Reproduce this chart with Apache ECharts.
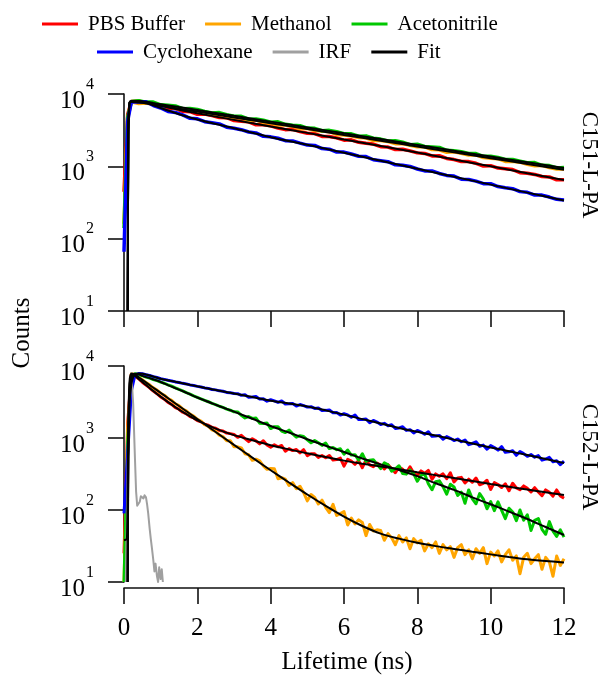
<!DOCTYPE html>
<html>
<head>
<meta charset="utf-8">
<title>Fluorescence lifetime decays</title>
<script src="https://cdn.jsdelivr.net/npm/echarts@6/dist/echarts.min.js"></script>
<style>
  html, body { margin: 0; padding: 0; background: #fff; }
  #chart { width: 602px; height: 677px; }
</style>
</head>
<body>
<div id="chart"></div>
<script>
// ---- Legend and panel text ----
const LEGEND_ROW1 = ['PBS Buffer', 'Methanol', 'Acetonitrile'];
const LEGEND_ROW2 = ['Cyclohexane', 'IRF', 'Fit'];
const PANEL_LABELS = ['C151-L-PA', 'C152-L-PA'];
const X_TITLE = 'Lifetime (ns)';
const Y_TITLE = 'Counts';

// ---- C151-L-PA (upper panel): measured decays, time in ns ----
const TIME_TOP = [0, 0.1, 0.2, 0.4, 0.6, 0.8, 1.0, 1.2, 1.4, 1.6, 1.8, 2.0, 2.2, 2.4, 2.6, 2.8, 3.0, 3.2, 3.4, 3.6, 3.8,
  4.0, 4.2, 4.4, 4.6, 4.8, 5.0, 5.2, 5.4, 5.6, 5.8, 6.0, 6.2, 6.4, 6.6, 6.8, 7.0, 7.2, 7.4, 7.6, 7.8,
  8.0, 8.2, 8.4, 8.6, 8.8, 9.0, 9.2, 9.4, 9.6, 9.8, 10.0, 10.2, 10.4, 10.6, 10.8, 11.0, 11.2, 11.4, 11.6, 11.8, 12.0];
const TOP_PBS = [445, 5200, 7900, 8030, 7546, 7395, 6800, 6336, 6314, 5762, 5696, 5238, 5284, 5020, 4722, 4707, 4302, 4210,
  4121, 3754, 3747, 3631, 3386, 3214, 3245, 3020, 2871, 2836, 2590, 2586, 2475, 2303, 2328, 2148, 2080, 2030, 1872,
  1848, 1707, 1724, 1636, 1535, 1510, 1392, 1401, 1287, 1240, 1166, 1163, 1101, 1009, 1020, 945, 924, 901, 818,
  800, 773, 723, 714, 650, 651];
const TOP_METHANOL = [160, 4600, 7800, 7372, 7484, 7196, 6733, 6819, 6311, 6145, 6038, 5596, 5555, 5141, 5202, 4969, 4693,
  4661, 4312, 4362, 4044, 3940, 3724, 3733, 3560, 3298, 3346, 3123, 3070, 3013, 2764, 2715, 2646, 2500, 2479, 2275,
  2283, 2197, 2058, 2066, 1950, 1861, 1859, 1705, 1697, 1567, 1591, 1515, 1431, 1437, 1323, 1295, 1275, 1169, 1172,
  1142, 1069, 1019, 1030, 965, 921, 918];
const TOP_ACN = [140, 4800, 7850, 8080, 7722, 7725, 7085, 6970, 6844, 6276, 6292, 6130, 5732, 5468, 5531, 5180, 4940, 4906,
  4491, 4505, 4343, 4067, 4120, 3812, 3710, 3652, 3381, 3353, 3104, 3142, 3000, 2831, 2815, 2607, 2637, 2445, 2380,
  2244, 2254, 2151, 1989, 2020, 1881, 1848, 1823, 1666, 1640, 1596, 1505, 1499, 1377, 1379, 1328, 1245, 1244, 1180,
  1124, 1128, 1034, 1025, 951, 964];
const TOP_CYCLOHEX = [66, 4200, 7800, 7742, 7828, 6930, 6400, 5733, 5559, 5131, 4608, 4539, 4138, 4000, 3863, 3479, 3360,
  3212, 2980, 2897, 2600, 2555, 2444, 2264, 2244, 2090, 1967, 1945, 1759, 1723, 1573, 1572, 1480, 1379, 1364, 1233,
  1196, 1160, 1048, 1037, 996, 919, 864, 863, 797, 749, 734, 663, 657, 624, 576, 576, 526, 505, 490, 447, 437, 400,
  400, 376, 350, 343];

// ---- C151-L-PA fitted curves ----
const FIT_TIME_TOP = [0.1, 0.12, 0.15, 0.2, 0.4, 0.6, 0.8, 1, 1.5, 2, 3, 4, 5, 6, 7, 8, 9, 10, 11, 12];
const FIT_TOP_PBS = [10, 3000, 7600, 7950, 7950, 7750, 7350, 6900, 6050, 5400, 4390, 3560, 2900, 2350, 1910, 1550, 1240, 1000, 800, 645];
const FIT_TOP_METHANOL = [10, 3000, 7500, 7800, 7600, 7410, 7125, 6870, 6260, 5710, 4740, 3940, 3280, 2715, 2260, 1880, 1560, 1295, 1080, 900];
const FIT_TOP_ACN = [10, 3000, 7600, 7950, 8000, 7800, 7500, 7230, 6590, 6010, 4990, 4150, 3450, 2860, 2380, 1980, 1640, 1365, 1135, 945];
const FIT_TOP_CYCLOHEX = [10, 3000, 7500, 7850, 7900, 7600, 7000, 6400, 5260, 4450, 3360, 2530, 1987, 1541, 1196, 928, 720, 559, 433, 336];

// ---- C152-L-PA (lower panel): measured decays, time in ns ----
const TIME_BOTTOM = [0, 0.1, 0.2, 0.3, 0.4, 0.5, 0.6, 0.7, 0.8, 0.9, 1.0, 1.1, 1.2, 1.3, 1.4, 1.5, 1.6, 1.7, 1.8, 1.9,
  2.0, 2.1, 2.2, 2.3, 2.4, 2.5, 2.6, 2.7, 2.8, 2.9, 3.0, 3.1, 3.2, 3.3, 3.4, 3.5, 3.6, 3.7, 3.8, 3.9,
  4.0, 4.1, 4.2, 4.3, 4.4, 4.5, 4.6, 4.7, 4.8, 4.9, 5.0, 5.1, 5.2, 5.3, 5.4, 5.5, 5.6, 5.7, 5.8, 5.9,
  6.0, 6.1, 6.2, 6.3, 6.4, 6.5, 6.6, 6.7, 6.8, 6.9, 7.0, 7.1, 7.2, 7.3, 7.4, 7.5, 7.6, 7.7, 7.8, 7.9,
  8.0, 8.1, 8.2, 8.3, 8.4, 8.5, 8.6, 8.7, 8.8, 8.9, 9.0, 9.1, 9.2, 9.3, 9.4, 9.5, 9.6, 9.7, 9.8, 9.9,
  10.0, 10.1, 10.2, 10.3, 10.4, 10.5, 10.6, 10.7, 10.8, 10.9, 11.0, 11.1, 11.2, 11.3, 11.4, 11.5, 11.6, 11.7, 11.8, 11.9, 12.0];
const BOT_PBS = [25, 1600, 7700, 7250, 6650, 5950, 5420, 4980, 4480, 4130, 3720, 3460, 3120, 2930, 2650, 2510, 2280, 2170,
  1990, 1900, 1745, 1680, 1555, 1505, 1405, 1365, 1275, 1250, 1170, 1150,
  1121, 1022, 1087, 978, 891, 975, 911, 828, 916, 800, 747, 803, 755, 788, 655, 712, 669, 692, 621, 688,
  568, 605, 605, 537, 571, 532, 571, 495, 502, 526,
  407, 505, 476, 431, 485, 387, 492, 424, 400, 450, 418, 371, 427, 373, 329, 397, 368, 326, 397, 327,
  302, 349, 323, 355, 267, 317, 294, 318, 272, 328, 245, 278, 284, 237, 268, 243, 278, 224, 234, 259,
  193, 240, 226, 205, 231, 185, 235, 203, 191, 216, 200, 178, 204, 178, 158, 190, 176, 156, 190, 157, 146];
const BOT_METHANOL = [10, 1400, 7800, 7580, 6950, 6460, 5880, 5470, 4960, 4640, 4190, 3930, 3540, 3330, 2990, 2820, 2530,
  2390, 2140, 2020, 1810, 1715, 1530, 1455, 1295, 1235, 1095, 1045, 918, 915,
  754, 754, 729, 603, 584, 490, 507, 481, 410, 367, 378, 373, 272, 281, 268, 219, 240, 197, 214, 174,
  134, 164, 149, 121, 137, 109, 92, 120, 84, 89, 95, 62, 77, 64, 73, 67, 44, 63, 51, 53,
  52, 38, 47, 41, 33, 44, 36, 41, 29, 40, 35, 38, 27, 34, 30, 36, 25, 33, 28, 31,
  22, 30, 33, 24, 28, 21, 29, 25, 30, 18, 26, 23, 27, 19, 24, 28, 20, 23, 13, 22,
  25, 18, 21, 24, 15, 22, 19, 12, 23, 17, 21];
const BOT_ACN = [10, 900, 6400, 7800, 7620, 7330, 7010, 6780, 6500, 6260, 5980, 5760, 5470, 5240, 4960, 4720, 4510, 4270,
  4080, 3850, 3670, 3500, 3330, 3190, 3030, 2910, 2760, 2660, 2520, 2430, 2310,
  2298, 2068, 1899, 1988, 1869, 1894, 1606, 1594, 1617, 1352, 1438, 1431, 1251, 1190, 1285, 1140, 1025, 1076, 1050,
  941, 857, 920, 857, 790, 850, 713, 737, 689, 708,
  594, 681, 579, 586, 494, 604, 474, 492, 498, 431, 376, 452, 423, 345, 373, 412, 321, 315, 360, 318,
  251, 303, 317, 232, 191, 247, 254, 211, 166, 228, 209, 159, 177, 124, 190, 143, 122, 169, 142, 104,
  131, 98, 130, 99, 76, 106, 94, 71, 100, 72, 86, 52, 72, 76, 54, 46, 69, 51, 43, 53, 42];
const BOT_CYCLOHEX = [90, 600, 4500, 7500, 7850, 7800, 7560, 7380, 7120, 6920, 6650, 6520, 6330, 6200, 6010, 5900, 5740,
  5640, 5460, 5370, 5210, 5120, 4960, 4890, 4720, 4660, 4520, 4460, 4300, 4240, 4140,
  4131, 3920, 3986, 3667, 3700, 3765, 3469, 3495, 3245, 3399, 3272, 3116, 3276, 2968, 2980, 3009, 2774, 2915, 2818,
  2685, 2723, 2574, 2616, 2406, 2420, 2454, 2244, 2252, 2083, 2173, 2091, 1940, 2086, 1805, 1803, 1833, 1626, 1756, 1665,
  1542, 1597, 1478, 1526, 1356, 1380, 1431, 1276, 1304, 1175, 1275, 1208, 1125, 1220, 1055, 1064, 1087, 964, 1045, 990,
  922, 967, 887, 938, 808, 840, 886, 768, 796, 699, 784, 737, 678, 758, 632, 642, 666, 575, 647, 607,
  557, 589, 541, 570, 493, 510, 538, 467, 483, 425, 477];

// ---- C152-L-PA fitted curves (null = before the fit starts) ----
const FIT_TIME_BOTTOM = [0, 0.08, 0.1, 0.12, 0.15, 0.2, 0.25, 0.3, 0.4, 0.5, 0.75, 1, 1.25, 1.5, 1.75, 2, 2.5, 3, 3.5, 4,
  4.5, 5, 5.5, 6, 6.5, 7, 7.5, 8, 8.5, 9, 9.5, 10, 10.5, 11, 11.5, 12];
const FIT_BOT_PBS = [38, 40, 200, 1500, 5000, 7600, 7700, 7300, 6600, 6000, 4700, 3750, 3020, 2480, 2080, 1760, 1350, 1095,
  930, 795, 695, 612, 545, 485, 440, 402, 368, 335, 305, 278, 253, 230, 210, 192, 176, 162];
const FIT_BOT_METHANOL = [null, null, 10, 1500, 6000, 7800, 7800, 7600, 6989, 6427, 5200, 4229, 3430, 2784, 2260, 1835,
  1212, 802, 533, 357, 241, 164, 114, 81, 60, 47, 40, 35, 31.5, 28.8, 26.3, 24.2, 22.3, 20.7, 19.5, 18.6];
const FIT_BOT_ACN = [null, null, 10, 800, 4000, 6800, 7600, 7800, 7650, 7300, 6650, 6000, 5300, 4700, 4150, 3650, 2900,
  2320, 1850, 1470, 1190, 960, 780, 640, 520, 430, 360, 295, 235, 190, 150, 120, 95, 75, 58, 45];
const FIT_BOT_CYCLOHEX = [null, null, 10, 500, 3000, 5500, 7000, 7600, 7850, 7800, 7250, 6650, 6250, 5900, 5550, 5220,
  4650, 4150, 3700, 3300, 3010, 2740, 2420, 2110, 1830, 1590, 1380, 1220, 1080, 950, 840, 740, 655, 580, 510, 450];

// ---- Instrument response function (lower panel) ----
const IRF_TIME = [0.05, 0.1, 0.15, 0.2, 0.25, 0.3, 0.33, 0.36, 0.4, 0.43, 0.46, 0.5, 0.53, 0.56, 0.6, 0.63, 0.66, 0.7,
  0.73, 0.76, 0.8, 0.83, 0.86, 0.9, 0.93, 0.96, 1.0, 1.03, 1.06];
const IRF_COUNTS = [10, 400, 5500, 8000, 3000, 500, 180, 115, 108, 130, 155, 162, 145, 160, 150, 120, 90, 55, 40, 30, 20,
  14, 18, 12, 10, 16, 11, 15, 10];

// ---- Styling ----
const FONT = "'Liberation Serif', 'Times New Roman', serif";
const COLORS = {
  'PBS Buffer': '#ff0000',
  'Methanol': '#ffa500',
  'Acetonitrile': '#00c800',
  'Cyclohexane': '#0000ff',
  'IRF': '#a0a0a0',
  'Fit': '#000000'
};
const AXIS_COLOR = '#111';

function pairs(times, values) {
  const out = [];
  for (let i = 0; i < times.length; i++) {
    if (values[i] !== null && values[i] !== undefined) out.push([times[i], values[i]]);
  }
  return out;
}

function dataSeries(name, panel, times, values, width) {
  return {
    type: 'line', name: name, xAxisIndex: panel, yAxisIndex: panel,
    data: pairs(times, values), color: COLORS[name],
    showSymbol: false, symbol: 'none', clip: true,
    lineStyle: { width: width, color: COLORS[name], join: 'round' },
    emphasis: { disabled: true }, silent: true
  };
}

function fitSeries(panel, times, values) {
  return {
    type: 'line', name: 'Fit', xAxisIndex: panel, yAxisIndex: panel,
    data: pairs(times, values), color: COLORS['Fit'],
    showSymbol: false, symbol: 'none', clip: true, smooth: 0.3,
    lineStyle: { width: 2, color: COLORS['Fit'] },
    emphasis: { disabled: true }, silent: true
  };
}

const series = [
  // upper panel
  dataSeries('PBS Buffer', 0, TIME_TOP, TOP_PBS, 3.5),
  dataSeries('Methanol', 0, TIME_TOP, TOP_METHANOL, 3.5),
  dataSeries('Acetonitrile', 0, TIME_TOP, TOP_ACN, 3.5),
  dataSeries('Cyclohexane', 0, TIME_TOP, TOP_CYCLOHEX, 3.5),
  // lower panel
  dataSeries('PBS Buffer', 1, TIME_BOTTOM, BOT_PBS, 3),
  dataSeries('Methanol', 1, TIME_BOTTOM, BOT_METHANOL, 3),
  dataSeries('Acetonitrile', 1, TIME_BOTTOM, BOT_ACN, 3),
  dataSeries('Cyclohexane', 1, TIME_BOTTOM, BOT_CYCLOHEX, 3),
  dataSeries('IRF', 1, IRF_TIME, IRF_COUNTS, 2),
  // fits
  fitSeries(0, FIT_TIME_TOP, FIT_TOP_PBS),
  fitSeries(0, FIT_TIME_TOP, FIT_TOP_METHANOL),
  fitSeries(0, FIT_TIME_TOP, FIT_TOP_ACN),
  fitSeries(0, FIT_TIME_TOP, FIT_TOP_CYCLOHEX),
  fitSeries(1, FIT_TIME_BOTTOM, FIT_BOT_PBS),
  fitSeries(1, FIT_TIME_BOTTOM, FIT_BOT_METHANOL),
  fitSeries(1, FIT_TIME_BOTTOM, FIT_BOT_ACN),
  fitSeries(1, FIT_TIME_BOTTOM, FIT_BOT_CYCLOHEX)
];

function legendRow(names, left, top) {
  return {
    data: names, left: left, top: top, orient: 'horizontal',
    icon: 'rect', itemWidth: 36, itemHeight: 3, itemGap: 20, padding: 0,
    selectedMode: false,
    textStyle: { fontFamily: FONT, fontSize: 21, color: '#000', lineHeight: 24, padding: [0, 0, 0, 5] }
  };
}

function xAxisFor(panel, showLabels) {
  return {
    gridIndex: panel, type: 'value', min: 0, max: 12, interval: 2,
    offset: showLabels ? 6 : 0,
    axisLine: { show: true, onZero: false, lineStyle: { color: AXIS_COLOR, width: 1.6 } },
    axisTick: { show: true, inside: false, length: 16, lineStyle: { color: AXIS_COLOR, width: 1.6 } },
    axisLabel: { show: showLabels, margin: 28, fontFamily: FONT, fontSize: 25, color: '#000' },
    splitLine: { show: false }
  };
}

function yAxisFor(panel) {
  return {
    gridIndex: panel, type: 'log', logBase: 10, min: 10, max: 10000,
    axisLine: { show: true, lineStyle: { color: AXIS_COLOR, width: 1.6 } },
    axisTick: { show: true, inside: false, length: 16, lineStyle: { color: AXIS_COLOR, width: 1.6 } },
    minorTick: { show: false },
    splitLine: { show: false },
    axisLabel: {
      margin: 30,
      formatter: function (v) { return '{b|10}{e|' + Math.round(Math.log10(v)) + '}'; },
      rich: {
        b: { fontFamily: FONT, fontSize: 25, color: '#000', padding: [14, 0, 0, 0] },
        e: { fontFamily: FONT, fontSize: 16, color: '#000', verticalAlign: 'top', padding: [2, 0, 0, 1] }
      }
    }
  };
}

const option = {
  animation: false,
  backgroundColor: '#ffffff',
  textStyle: { fontFamily: FONT },
  legend: [legendRow(LEGEND_ROW1, 42, 12), legendRow(LEGEND_ROW2, 97, 40)],
  grid: [
    { left: 124, top: 94, width: 440, height: 217, containLabel: false },
    { left: 124, top: 366, width: 440, height: 216, containLabel: false }
  ],
  xAxis: [xAxisFor(0, false), xAxisFor(1, true)],
  yAxis: [yAxisFor(0), yAxisFor(1)],
  series: series,
  graphic: [
    { type: 'text', x: 589, y: 165, rotation: -Math.PI / 2,
      style: { text: PANEL_LABELS[0], fontFamily: FONT, fontSize: 23, fill: '#000', textAlign: 'center', textVerticalAlign: 'middle' } },
    { type: 'text', x: 589, y: 457, rotation: -Math.PI / 2,
      style: { text: PANEL_LABELS[1], fontFamily: FONT, fontSize: 23, fill: '#000', textAlign: 'center', textVerticalAlign: 'middle' } },
    { type: 'text', x: 22, y: 333, rotation: Math.PI / 2,
      style: { text: Y_TITLE, fontFamily: FONT, fontSize: 25, fill: '#000', textAlign: 'center', textVerticalAlign: 'middle' } },
    { type: 'text', x: 347, y: 662,
      style: { text: X_TITLE, fontFamily: FONT, fontSize: 25, fill: '#000', textAlign: 'center', textVerticalAlign: 'middle' } }
  ]
};

const chart = echarts.init(document.getElementById('chart'), null, { renderer: 'canvas' });
chart.setOption(option);
</script>
</body>
</html>
